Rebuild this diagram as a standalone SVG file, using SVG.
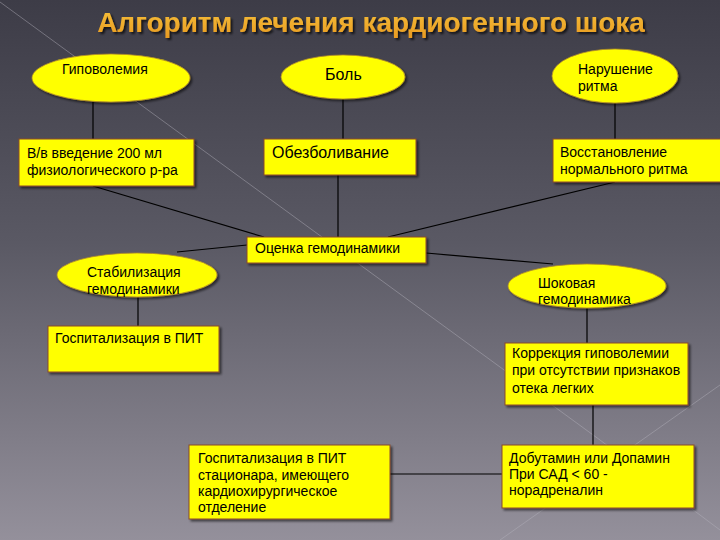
<svg xmlns="http://www.w3.org/2000/svg" width="720" height="540" viewBox="0 0 720 540">
  <defs>
    <linearGradient id="bg" x1="0" y1="0" x2="0" y2="1">
      <stop offset="0" stop-color="#3d3c47"/>
      <stop offset="0.45" stop-color="#5a5964"/>
      <stop offset="1" stop-color="#94909b"/>
    </linearGradient>
    <linearGradient id="tg" x1="0" y1="0" x2="0" y2="1">
      <stop offset="0" stop-color="#f7c23a"/>
      <stop offset="1" stop-color="#e89a22"/>
    </linearGradient>
    <filter id="sh" x="-10%" y="-10%" width="130%" height="140%">
      <feDropShadow dx="2" dy="2" stdDeviation="1.2" flood-color="#000" flood-opacity="0.55"/>
    </filter>
    <filter id="tsh" x="-5%" y="-20%" width="110%" height="150%">
      <feDropShadow dx="2" dy="2" stdDeviation="1" flood-color="#000" flood-opacity="0.7"/>
    </filter>
  </defs>
  <style>
    .box { fill: #ffff00; stroke: #8a4a2a; stroke-width: 1; filter: url(#sh); }
    .ell { fill: #ffff00; stroke: #b08a2a; stroke-width: 0.8; filter: url(#sh); }
    .t { font-family: "Liberation Sans", Arial, sans-serif; font-size: 14px; fill: #000; }
    .t16 { font-family: "Liberation Sans", Arial, sans-serif; font-size: 16px; fill: #000; }
    .con { stroke: #000; stroke-width: 1.2; fill: none; }
    .deco { stroke: #b4b2bc; stroke-width: 1; opacity: 0.45; }
  </style>

  <rect x="0" y="0" width="720" height="540" fill="url(#bg)"/>
  <g id="background-lines">
    <line class="deco" x1="0" y1="2" x2="600" y2="440"/>
    <line class="deco" x1="500" y1="540" x2="720" y2="385"/>
    <line class="deco" x1="600" y1="440" x2="720" y2="530"/>
  </g>

  <text x="371" y="32" text-anchor="middle" font-family="Liberation Sans, Arial, sans-serif" font-size="28" font-weight="bold" fill="url(#tg)" filter="url(#tsh)">Алгоритм лечения кардиогенного шока</text>

  <g id="connectors">
    <line class="con" x1="93" y1="102" x2="93" y2="139"/>
    <line class="con" x1="343" y1="98" x2="343" y2="139"/>
    <line class="con" x1="615" y1="103" x2="615" y2="139"/>
    <line class="con" x1="93" y1="186" x2="264" y2="237"/>
    <line class="con" x1="338" y1="175" x2="338" y2="237"/>
    <line class="con" x1="615" y1="182" x2="388" y2="237"/>
    <line class="con" x1="247" y1="245" x2="177" y2="252"/>
    <line class="con" x1="426" y1="253" x2="553" y2="264"/>
    <line class="con" x1="138" y1="297" x2="138" y2="326"/>
    <line class="con" x1="587" y1="308" x2="587" y2="343"/>
    <line class="con" x1="593" y1="405" x2="593" y2="445"/>
    <line class="con" x1="390" y1="474" x2="502" y2="474"/>
  </g>

  <g id="hypovolemia">
    <ellipse class="ell" cx="111" cy="78" rx="79" ry="24"/>
    <text class="t" x="62" y="74">Гиповолемия</text>
  </g>
  <g id="pain">
    <ellipse class="ell" cx="343" cy="77" rx="62" ry="22"/>
    <text class="t16" x="325" y="80">Боль</text>
  </g>
  <g id="arrhythmia">
    <ellipse class="ell" cx="615" cy="76" rx="63" ry="27"/>
    <text class="t" x="578" y="74">Нарушение</text>
    <text class="t" x="578" y="91">ритма</text>
  </g>

  <g id="iv-infusion">
    <rect class="box" x="19" y="139" width="175" height="47"/>
    <text class="t" x="27" y="158">В/в введение 200 мл</text>
    <text class="t" x="27" y="175">физиологического р-ра</text>
  </g>
  <g id="analgesia">
    <rect class="box" x="264" y="139" width="152" height="36"/>
    <text class="t16" x="272" y="158">Обезболивание</text>
  </g>
  <g id="rhythm-restore">
    <rect class="box" x="553" y="139" width="170" height="43"/>
    <text class="t" x="560" y="157">Восстановление</text>
    <text class="t" x="560" y="174">нормального ритма</text>
  </g>

  <g id="hemodynamics-assessment">
    <rect class="box" x="247" y="237" width="179" height="26"/>
    <text class="t" x="255" y="253">Оценка гемодинамики</text>
  </g>

  <g id="stabilization">
    <ellipse class="ell" cx="137" cy="275" rx="80" ry="22"/>
    <text class="t" x="87" y="277">Стабилизация</text>
    <text class="t" x="87" y="294">гемодинамики</text>
  </g>
  <g id="shock">
    <ellipse class="ell" cx="587" cy="286" rx="79" ry="22"/>
    <text class="t" x="538" y="288">Шоковая</text>
    <text class="t" x="538" y="304">гемодинамика</text>
  </g>

  <g id="icu">
    <rect class="box" x="48" y="326" width="171" height="46"/>
    <text class="t" x="55" y="343">Госпитализация в ПИТ</text>
  </g>
  <g id="hypovolemia-correction">
    <rect class="box" x="505" y="343" width="183" height="62"/>
    <text class="t" x="512" y="358">Коррекция гиповолемии</text>
    <text class="t" x="512" y="375">при отсутствии признаков</text>
    <text class="t" x="512" y="393">отека легких</text>
  </g>
  <g id="inotropes">
    <rect class="box" x="502" y="445" width="192" height="63"/>
    <text class="t" x="509" y="463">Добутамин или Допамин</text>
    <text class="t" x="509" y="479">При САД &lt; 60 -</text>
    <text class="t" x="509" y="495">норадреналин</text>
  </g>
  <g id="cardiac-surgery-icu">
    <rect class="box" x="189" y="445" width="201" height="74"/>
    <text class="t" x="198" y="463">Госпитализация в ПИТ</text>
    <text class="t" x="198" y="480">стационара, имеющего</text>
    <text class="t" x="198" y="496">кардиохирургическое</text>
    <text class="t" x="198" y="512">отделение</text>
  </g>
</svg>
